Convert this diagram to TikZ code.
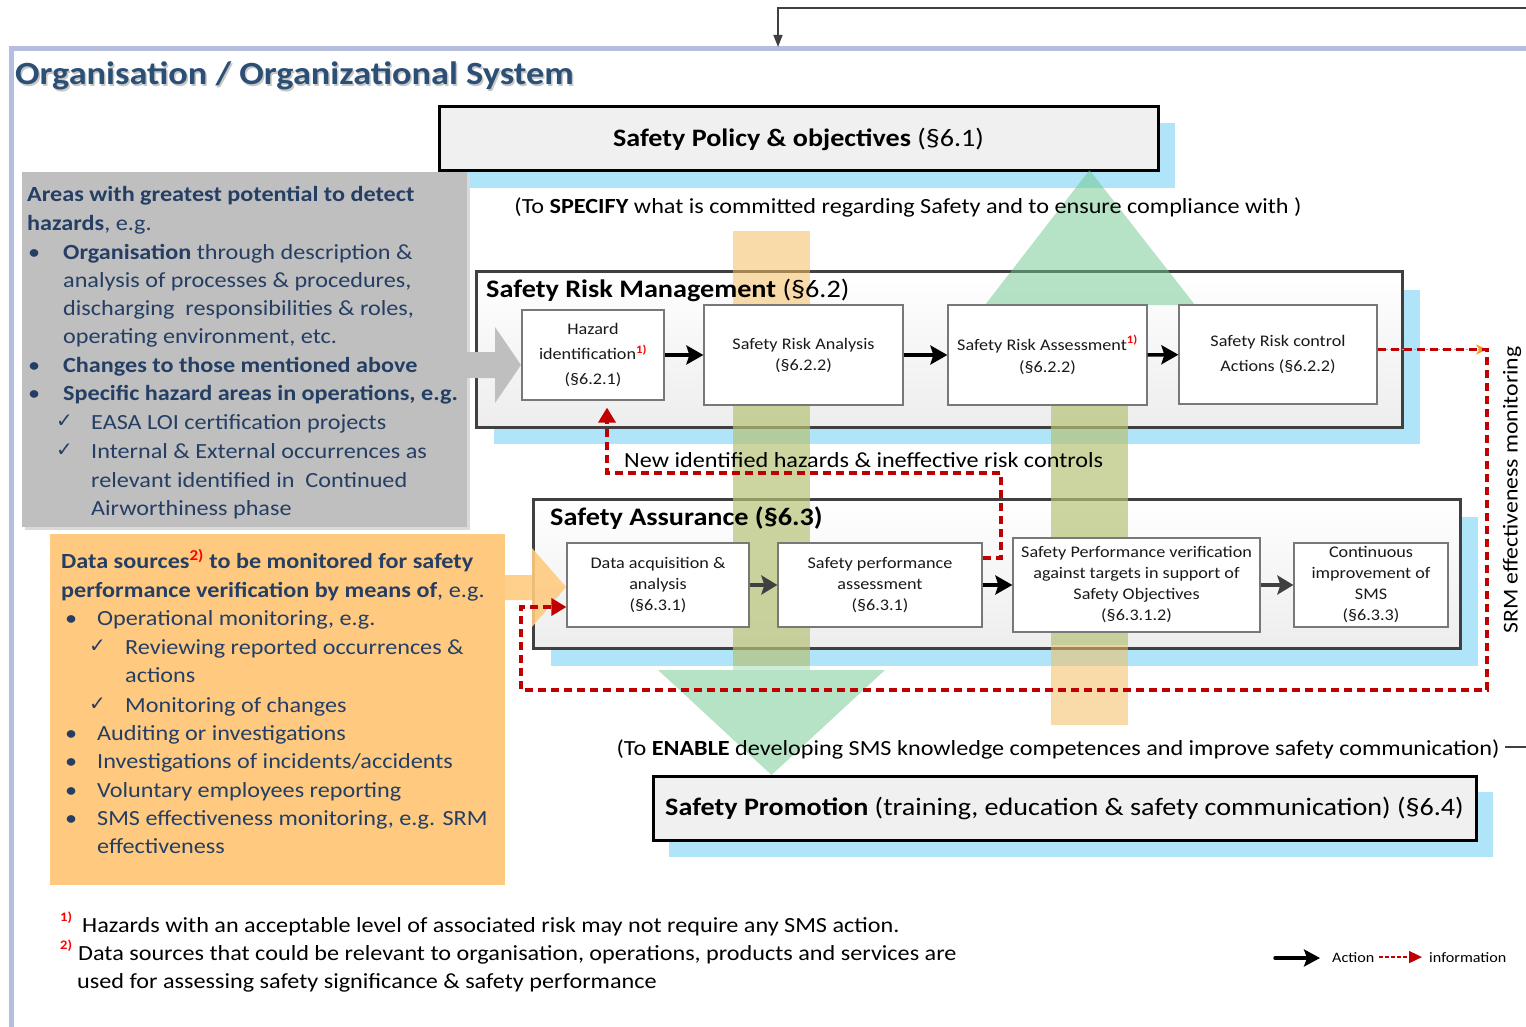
\documentclass[tikz,border=0pt]{standalone}
\usepackage{fontspec}
\setmainfont{Carlito}[FakeStretch=1.12]
\newfontfamily\dejavu{DejaVu Sans}
\usetikzlibrary{arrows.meta,calc}
\definecolor{titleblue}{RGB}{43,79,117}
\definecolor{boxtxt}{RGB}{36,62,100}
\definecolor{frameblue}{RGB}{182,190,224}
\definecolor{shadowblue}{RGB}{176,228,248}
\definecolor{infored}{RGB}{192,0,0}
\definecolor{grayfill}{RGB}{191,191,191}
\definecolor{grayshadow}{RGB}{218,218,218}
\definecolor{orangefill}{RGB}{255,202,128}
\definecolor{greenarr}{RGB}{110,200,140}
\definecolor{orangearr}{RGB}{245,190,100}
\definecolor{darkline}{RGB}{64,64,64}
\definecolor{policyfill}{RGB}{240,240,240}
\definecolor{nodeborder}{RGB}{120,120,120}
\newcommand{\setfs}[2]{\fontsize{#1}{#2}\selectfont}
\newcommand{\chk}{{\dejavu ✓}}
\newcommand{\supr}[1]{\textsuperscript{\textcolor{red}{\bfseries #1}}}
\tikzset{
  policybox/.style={draw=black, line width=3pt, fill=policyfill, inner sep=0pt},
  container/.style={draw=darkline, line width=3pt, top color=white, bottom color=black!7, inner sep=0pt},
  procnode/.style={draw=nodeborder, line width=1.2pt, fill=white, align=center, inner sep=0pt, text=black!90},
  actarrow/.style={line width=3.5pt, draw=black, -{Stealth[length=17pt,width=19pt,inset=3pt]}},
  actarrowgray/.style={line width=3.5pt, draw=darkline, -{Stealth[length=16pt,width=19pt,inset=3pt]}},
  infoline/.style={draw=infored, line width=3.5pt, dash pattern=on 8pt off 5pt, -{Triangle[length=15pt,width=17pt]}},
  gtxt/.style={anchor=base west, inner sep=0pt, text=boxtxt, font=\setfs{21.6}{25}},
  chkmark/.style={anchor=base west, inner sep=0pt, text=boxtxt, font=\setfs{20}{22}},
  plaintxt/.style={inner sep=0pt, text=black, font=\setfs{21.6}{25}},
  loopline/.style={draw=darkline, line width=1.5pt},
  bandorange/.style={fill=orangearr, opacity=0.55},
  bandshaft/.style={fill=greenarr, opacity=0.32},
  bandhead/.style={fill=greenarr, opacity=0.5},
}
\begin{document}
\begin{tikzpicture}[x=1pt,y=-1pt]
\useasboundingbox (0,0) rectangle (1526,1027);
\fill[white] (0,0) rectangle (1526,1027);
% frame of organisation
\draw[frameblue, line width=5pt] (1530,49) -- (11,49) -- (11,1030);
% loop line at top
\coordinate (ltop) at (1526,8);
\coordinate (lcorner) at (778,8);
\coordinate (lin) at (778,47);
\draw[loopline, -{Triangle[length=12pt,width=9pt]}] (ltop) -- (lcorner) -- (lin);
% title
\node[anchor=base west, inner sep=0pt, text=black!22, font=\setfs{32.4}{36}\bfseries] (titleshadow) at (16.5,86.5) {Organisation / Organizational System};
\node[anchor=base west, inner sep=0pt, text=titleblue, font=\setfs{32.4}{36}\bfseries] (title) at (15,85) {Organisation / Organizational System};

% Policy
\fill[shadowblue] (457,123) rectangle (1175,188);
\node[policybox, minimum width=719pt, minimum height=64pt, font=\setfs{25.1}{29}] (policy) at (798.5,139) {\textbf{Safety Policy \& objectives} (§6.1)};

% SRM container
\fill[shadowblue] (494,290) rectangle (1420,444);
\node[container, minimum width=926pt, minimum height=156pt] (srm) at (939,349) {};
% SA container
\fill[shadowblue] (551,517) rectangle (1478,666);
\node[container, minimum width=927pt, minimum height=149pt] (sa) at (996.5,573.5) {};
% Promotion
\fill[shadowblue] (669,792) rectangle (1493,857);
\node[policybox, minimum width=823pt, minimum height=64pt, font=\setfs{25.1}{29}] (promo) at (1064.5,808) {\textbf{Safety Promotion} (training, education \& safety communication) (§6.4)};

% gray box
\fill[grayshadow] (25,175) rectangle (470,530);
\fill[grayfill] (22,172) rectangle (467,527);
% orange box
\fill[orangefill] (50,534) rectangle (505,885);

% big translucent bands
\fill[bandorange] (733,231) rectangle (810,666);
\fill[bandorange] (1051,330) rectangle (1128,725);
\fill[bandshaft] (733,330) rectangle (810,670);
\fill[bandhead] (658,670) -- (885,670) -- (771.5,775) -- cycle;
\fill[bandshaft] (1051,305) rectangle (1128,645);
\fill[bandhead] (985,305) -- (1089.5,170) -- (1195,305) -- cycle;

% side arrows
\fill[grayfill] (467,352) -- (495,352) -- (495,327) -- (521,365) -- (495,403) -- (495,378) -- (467,378) -- cycle;
\fill[orangefill, opacity=0.9] (505,575) -- (532,575) -- (532,548) -- (566,587) -- (532,627) -- (532,600) -- (505,600) -- cycle;

% titles of containers
\node[anchor=base west, inner sep=0pt, font=\setfs{25.2}{30}] (srmt) at (486,297) {\textbf{Safety Risk Management} (§6.2)};
\node[anchor=base west, inner sep=0pt, font=\setfs{25.2}{30}] (sat) at (550,525) {\textbf{Safety Assurance (§6.3)}};

% SRM nodes
\node[procnode, minimum width=142pt, minimum height=90pt, font=\setfs{16.2}{25}] (haz) at (593,355) {Hazard\\identification\supr{1)}\\(§6.2.1)};
\node[procnode, minimum width=199pt, minimum height=100pt, font=\setfs{16.2}{21}] (sra) at (803.5,355) {Safety Risk Analysis\\(§6.2.2)};
\node[procnode, minimum width=199pt, minimum height=100pt, font=\setfs{16.2}{22}] (sras) at (1047.5,355) {Safety Risk Assessment\supr{1)}\\(§6.2.2)};
\node[procnode, minimum width=198pt, minimum height=99pt, font=\setfs{16.2}{25}] (src) at (1278,354.5) {Safety Risk control\\Actions (§6.2.2)};
% SA nodes
\node[procnode, minimum width=182pt, minimum height=84pt, font=\setfs{16.2}{21}] (daq) at (658,585) {Data acquisition \&\\analysis\\(§6.3.1)};
\node[procnode, minimum width=204pt, minimum height=84pt, font=\setfs{16.2}{21}] (spa) at (880,585) {Safety performance\\assessment\\(§6.3.1)};
\node[procnode, minimum width=247pt, minimum height=94pt, font=\setfs{16.2}{21}] (spv) at (1136.5,585) {Safety Performance verification\\against targets in support of\\Safety Objectives\\(§6.3.1.2)};
\node[procnode, minimum width=154pt, minimum height=84pt, font=\setfs{16.2}{21}] (cim) at (1371,585) {\raisebox{-4pt}{\parbox{150pt}{\centering Continuous\\improvement of\\SMS\\(§6.3.3)}}};

% action arrows
\draw[actarrow] (haz) -- (sra);
\draw[actarrow] (sra) -- (sras);
\draw[actarrow] (sras) -- (src);
\draw[actarrowgray] (daq) -- (spa);
\draw[actarrow] (spa) -- (spv);
\draw[actarrowgray] (spv) -- (cim);

% information lines
\coordinate (i1a) at (1487,349.5);
\coordinate (i1b) at (1487,690);
\coordinate (i1c) at (521,690);
\coordinate (i1d) at (521,607);
\draw[draw={rgb,255:red,255;green,153;blue,0}, line width=1.2pt, dash pattern=on 2pt off 2pt, -{Stealth[length=11pt,width=10pt]}] ([yshift=5pt]src.east) -- (i1a);
\draw[infoline] ([yshift=5pt]src.east) -- (i1a) -- (i1b) -- (i1c) -- (i1d) -- ([yshift=-22pt]daq.west);
\coordinate (i2a) at (1001,558);
\coordinate (i2b) at (1001,473);
\coordinate (i2c) at (607,473);
\draw[infoline] ([yshift=27pt]spa.east) -- (i2a) -- (i2b) -- (i2c) -- ([xshift=14pt,yshift=-7pt]haz.south);
\node[plaintxt, anchor=base west] (newhaz) at (624,467) {New identified hazards \& ineffective risk controls};

% texts
\node[plaintxt, anchor=base] (spec) at (908,214) {(To \textbf{SPECIFY} what is committed regarding Safety and to ensure compliance with )};
\node[plaintxt, anchor=base] (enable) at (1058,755) {(To \textbf{ENABLE} developing SMS knowledge competences and improve safety communication)};
\coordinate (loopstart) at (1505,747);
\coordinate (loopend) at (1526,747);
\draw[loopline] (loopstart) -- (loopend);
\node[plaintxt, rotate=90, font=\setfs{21.2}{25}] (srmeff) at (1512,490) {SRM effectiveness monitoring};

% gray box text
\node[gtxt] (g1) at (27,202) {\textbf{Areas with greatest potential to detect}};
\node[gtxt] (g2) at (27,230) {\textbf{hazards}, e.g.};
\node[gtxt] (g3b) at (28,259) {•};
\node[gtxt] (g3) at (63,259) {\textbf{Organisation} through description \&};
\node[gtxt] (g4) at (63,287) {analysis of processes \& procedures,};
\node[gtxt] (g5) at (63,315) {discharging\ \ responsibilities \& roles,};
\node[gtxt] (g6) at (63,343) {operating environment, etc.};
\node[gtxt] (g7b) at (28,372) {•};
\node[gtxt] (g7) at (63,372) {\textbf{Changes to those mentioned above}};
\node[gtxt] (g8b) at (28,400) {•};
\node[gtxt] (g8) at (63,400) {\textbf{Specific hazard areas in operations, e.g.}};
\node[chkmark] (g9c) at (56,427) {\chk};
\node[gtxt] (g9) at (91,429) {EASA LOI certification projects};
\node[chkmark] (g10c) at (56,456) {\chk};
\node[gtxt] (g10) at (91,458) {Internal \& External occurrences as};
\node[gtxt] (g11) at (91,487) {relevant identified in\ \ Continued};
\node[gtxt] (g12) at (91,515) {Airworthiness phase};

% orange box text
\node[gtxt] (o1) at (61,568) {\textbf{Data sources}\supr{2)} \textbf{to be monitored for safety}};
\node[gtxt] (o2) at (61,597) {\textbf{performance verification by means of}, e.g.};
\node[gtxt] (o3b) at (65,625) {•};
\node[gtxt] (o3) at (97,625) {Operational monitoring, e.g.};
\node[chkmark] (o4c) at (89,652) {\chk};
\node[gtxt] (o4) at (125,654) {Reviewing reported occurrences \&};
\node[gtxt] (o5) at (125,682) {actions};
\node[chkmark] (o6c) at (89,710) {\chk};
\node[gtxt] (o6) at (125,712) {Monitoring of changes};
\node[gtxt] (o7b) at (65,740) {•};
\node[gtxt] (o7) at (97,740) {Auditing or investigations};
\node[gtxt] (o8b) at (65,768) {•};
\node[gtxt] (o8) at (97,768) {Investigations of incidents/accidents};
\node[gtxt] (o9b) at (65,797) {•};
\node[gtxt] (o9) at (97,797) {Voluntary employees reporting};
\node[gtxt] (o10b) at (65,825) {•};
\node[gtxt] (o10) at (97,825) {SMS effectiveness monitoring, e.g. SRM};
\node[gtxt] (o11) at (97,853) {effectiveness};

% footnotes
\node[anchor=base west, inner sep=0pt, text=red, font=\setfs{13}{15}\bfseries] (f1s) at (60,921) {1)};
\node[plaintxt, anchor=base west] (f1) at (82,932) {Hazards with an acceptable level of associated risk may not require any SMS action.};
\node[anchor=base west, inner sep=0pt, text=red, font=\setfs{13}{15}\bfseries] (f2s) at (60,949) {2)};
\node[plaintxt, anchor=base west] (f2) at (78,960) {Data sources that could be relevant to organisation, operations, products and services are};
\node[plaintxt, anchor=base west] (f3) at (77,988) {used for assessing safety significance \& safety performance};

% legend
\coordinate (la1) at (1275,958);
\coordinate (la2) at (1320,958);
\draw[line width=3.5pt, line cap=round, -{Stealth[length=16pt,width=17pt,inset=3pt]}] (la1) -- (la2);
\node[plaintxt, anchor=base west, font=\setfs{14.4}{17}] (lact) at (1332,962) {Action};
\node[plaintxt, anchor=base west, font=\setfs{14.4}{17}] (linfo) at (1429,962) {information};
\draw[draw=infored, line width=1.8pt, dash pattern=on 4pt off 2pt, shorten <=4pt, shorten >=7pt, -{Triangle[length=13pt,width=12pt]}] (lact.east) -- (linfo.west);
\end{tikzpicture}
\end{document}
